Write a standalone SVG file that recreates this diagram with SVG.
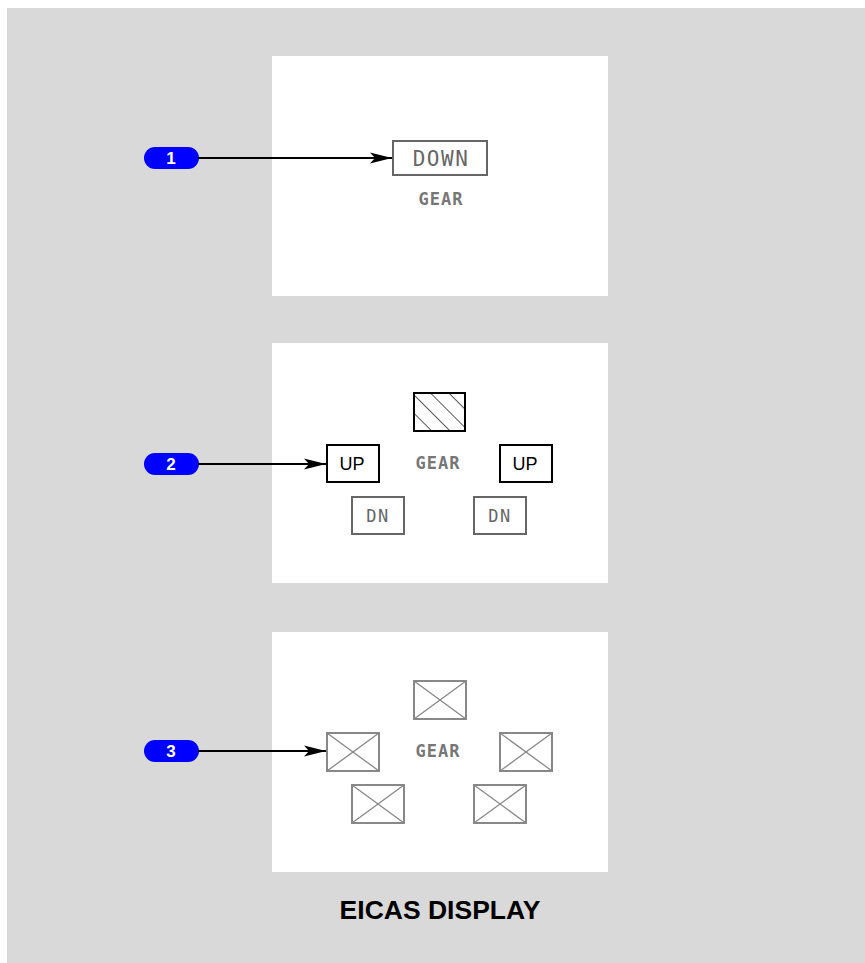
<svg xmlns="http://www.w3.org/2000/svg" width="865" height="963" viewBox="0 0 865 963">
<style>
.panel{fill:#fff}
.pill{fill:#0000ff}
.pnum{font-family:"Liberation Sans",Arial,sans-serif;font-weight:bold;font-size:17px;fill:#fff;text-anchor:middle}
.mono{font-family:"DejaVu Sans Mono","Liberation Mono",monospace;text-anchor:middle;fill:#666}
.gear{font-size:17px;letter-spacing:1px;font-weight:bold;fill:#777}
.box-gray{fill:#fff;stroke:#666;stroke-width:2}
.box-blk{fill:#fff;stroke:#000;stroke-width:2}
.box-x{fill:#fff;stroke:#888;stroke-width:2}
.xl{stroke:#888;stroke-width:1.3}
.up{font-family:"Liberation Sans",Arial,sans-serif;font-size:18px;fill:#000;text-anchor:middle}
.conn{stroke:#000;stroke-width:2;fill:none}
.title{font-family:"Liberation Sans",Arial,sans-serif;font-weight:bold;font-size:26.5px;fill:#000;text-anchor:middle}
</style>
<defs>
<marker id="ah" markerUnits="userSpaceOnUse" markerWidth="24" markerHeight="14" refX="22" refY="7" orient="auto">
<path d="M0,1.5 L22,7 L0,12.5 L5,7 Z" fill="#000"/>
</marker>
<pattern id="hatch" patternUnits="userSpaceOnUse" width="13" height="13" patternTransform="rotate(-45)">
<line x1="0" y1="0" x2="0" y2="13" stroke="#000" stroke-width="1.3"/>
</pattern>
</defs>
<rect x="7" y="8" width="858" height="955" fill="#d9d9d9"/>
<g id="panel1">
<rect class="panel" x="272" y="56" width="336" height="240"/>
<rect class="box-gray" x="393" y="141" width="94" height="34"/>
<text class="mono" x="441" y="166" font-size="21" letter-spacing="1.5">DOWN</text>
<text class="mono gear" x="441" y="205">GEAR</text>
</g>
<g id="panel2">
<rect class="panel" x="272" y="343" width="336" height="240"/>
<rect x="414" y="393" width="51" height="38" fill="url(#hatch)" stroke="#000" stroke-width="2"/>
<rect class="box-blk" x="327" y="445" width="52" height="37"/>
<text class="up" x="352" y="470">UP</text>
<rect class="box-blk" x="500" y="445" width="52" height="37"/>
<text class="up" x="525" y="470">UP</text>
<text class="mono gear" x="438" y="469">GEAR</text>
<rect class="box-gray" x="352" y="497" width="52" height="37"/>
<text class="mono" x="378" y="522" font-size="17" letter-spacing="1.5">DN</text>
<rect class="box-gray" x="474" y="497" width="52" height="37"/>
<text class="mono" x="500" y="522" font-size="17" letter-spacing="1.5">DN</text>
</g>
<g id="panel3">
<rect class="panel" x="272" y="632" width="336" height="240"/>
<g id="x-top"><rect class="box-x" x="414" y="681" width="52" height="38"/><path class="xl" d="M414,681 L466,719 M466,681 L414,719"/></g>
<g id="x-left"><rect class="box-x" x="327" y="733" width="52" height="38"/><path class="xl" d="M327,733 L379,771 M379,733 L327,771"/></g>
<g id="x-right"><rect class="box-x" x="500" y="733" width="52" height="38"/><path class="xl" d="M500,733 L552,771 M552,733 L500,771"/></g>
<g id="x-bl"><rect class="box-x" x="352" y="785" width="52" height="38"/><path class="xl" d="M352,785 L404,823 M404,785 L352,823"/></g>
<g id="x-br"><rect class="box-x" x="474" y="785" width="52" height="38"/><path class="xl" d="M474,785 L526,823 M526,785 L474,823"/></g>
<text class="mono gear" x="438" y="757">GEAR</text>
</g>
<g id="callout1"><rect class="pill" x="144" y="147" width="55" height="22" rx="11"/><text class="pnum" x="171" y="164">1</text></g>
<g id="callout2"><rect class="pill" x="144" y="453" width="55" height="22" rx="11"/><text class="pnum" x="171" y="470">2</text></g>
<g id="callout3"><rect class="pill" x="144" y="740" width="55" height="22" rx="11"/><text class="pnum" x="171" y="757">3</text></g>
<g id="connectors">
<line class="conn" x1="198" y1="158" x2="392" y2="158" marker-end="url(#ah)"/>
<line class="conn" x1="198" y1="464" x2="326" y2="464" marker-end="url(#ah)"/>
<line class="conn" x1="198" y1="751" x2="326" y2="751" marker-end="url(#ah)"/>
</g>
<text class="title" x="440" y="919">EICAS DISPLAY</text>
</svg>
